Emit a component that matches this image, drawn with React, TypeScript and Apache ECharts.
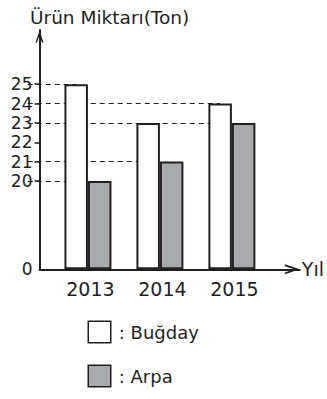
import React, { useEffect, useRef } from "react";
import * as echarts from "echarts";

// ---- data ----
const years = [2013, 2014, 2015];
const bugday = [25, 23, 24];
const arpa = [20, 21, 23];
const yTickLabels = [0, 20, 21, 22, 23, 24, 25];
const seriesNames = ["Buğday", "Arpa"];
const yAxisTitle = "Ürün Miktarı(Ton)";
const xAxisTitle = "Yıl";

// broken y axis: 0 .. 20 is compressed
const BREAK_LOW = 20;
const BREAK_POS = 4.566;
const toAxis = (v: number) => (v <= 0 ? 0 : v - BREAK_LOW + BREAK_POS);
const fromAxis = (a: number) => (a <= 0.01 ? 0 : Math.round(a - BREAK_POS + BREAK_LOW));

const X_MIN = 2012.327;
const X_MAX = 2015.944;

const INK = "#231f20";
const FONT = "DejaVu Sans";
const chevron = "path://M0,12 L4,0 L8,12 L6.5,12 L4,4.5 L1.5,12 Z";

export default function App() {
  const ref = useRef<HTMLDivElement>(null);
  useEffect(() => {
    if (!ref.current) return;
    const chart = echarts.init(ref.current, undefined, { renderer: "svg" });

    // dashed guide lines: from y axis to the right-most bar holding that value
    const values = Array.from(new Set([...bugday, ...arpa]));
    const guideLines = values.map((v) => {
      let last = 0;
      years.forEach((_, i) => {
        if (bugday[i] === v || arpa[i] === v) last = i;
      });
      return [
        { coord: [X_MIN, toAxis(v)] },
        { coord: [years[last], toAxis(v)] },
      ];
    });

    chart.setOption({
      animation: false,
      textStyle: { fontFamily: FONT, color: INK },
      title: {
        text: yAxisTitle,
        left: 30,
        top: 8,
        padding: 0,
        textStyle: { fontSize: 18.5, fontWeight: "normal", color: INK, fontFamily: FONT },
      },
      grid: { left: 39.5, right: 25.3, top: 30, bottom: 129.7 },
      legend: {
        orient: "vertical",
        left: 87.5,
        top: 320.5,
        padding: 0,
        itemWidth: 22.5,
        itemHeight: 21.5,
        itemGap: 21,
        icon: "rect",
        data: seriesNames,
        formatter: (n: string) => ": " + n,
        itemStyle: { borderColor: INK, borderWidth: 1.5 },
        textStyle: { fontSize: 18, color: INK, fontFamily: FONT, padding: [0, 0, 0, 3] },
      },
      xAxis: {
        type: "value",
        min: X_MIN,
        max: X_MAX,
        splitLine: { show: false },
        axisTick: { show: false },
        axisLine: {
          lineStyle: { color: INK, width: 2 },
          symbol: ["none", chevron],
          symbolSize: [13, 15],
          symbolOffset: [0, -7.5],
        },
        axisLabel: {
          customValues: years,
          formatter: (v: number) => String(v),
          fontSize: 19,
          color: INK,
          margin: 10,
          padding: [0, 0, 0, 5],
        },
        name: xAxisTitle,
        nameLocation: "end",
        nameGap: 2,
        nameTextStyle: { fontSize: 19, color: INK, fontFamily: FONT },
      },
      yAxis: {
        type: "value",
        min: 0,
        max: 12.37,
        splitLine: { show: false },
        axisLine: {
          show: true,
          lineStyle: { color: INK, width: 2 },
          symbol: ["none", chevron],
          symbolSize: [8, 13],
          symbolOffset: [0, -6.5],
        },
        axisTick: {
          show: true,
          length: 5,
          customValues: yTickLabels.filter((v) => v > 0).map(toAxis),
          lineStyle: { color: INK, width: 1.5 },
        },
        axisLabel: {
          customValues: yTickLabels.map(toAxis),
          formatter: (v: number) => String(fromAxis(v)),
          fontSize: 17,
          color: INK,
          margin: 7,
        },
      },
      series: [
        {
          type: "bar",
          name: seriesNames[0],
          data: years.map((y, i) => [y, toAxis(bugday[i])]),
          barWidth: 23.5,
          barGap: "0%",
          itemStyle: { color: "#ffffff", borderColor: INK, borderWidth: 2 },
          markLine: {
            z: 1,
            silent: true,
            symbol: ["none", "none"],
            label: { show: false },
            lineStyle: { type: [5, 4], width: 1, color: INK },
            data: guideLines,
          },
        },
        {
          type: "bar",
          name: seriesNames[1],
          data: years.map((y, i) => [y, toAxis(arpa[i])]),
          barWidth: 23.5,
          barGap: "0%",
          itemStyle: { color: "#a7a9ac", borderColor: INK, borderWidth: 2 },
        },
      ],
    });
    return () => chart.dispose();
  }, []);
  return (
    <div
      ref={ref}
      style={{ position: "fixed", left: 0, top: 0, width: 327, height: 399, background: "#fff" }}
    />
  );
}
